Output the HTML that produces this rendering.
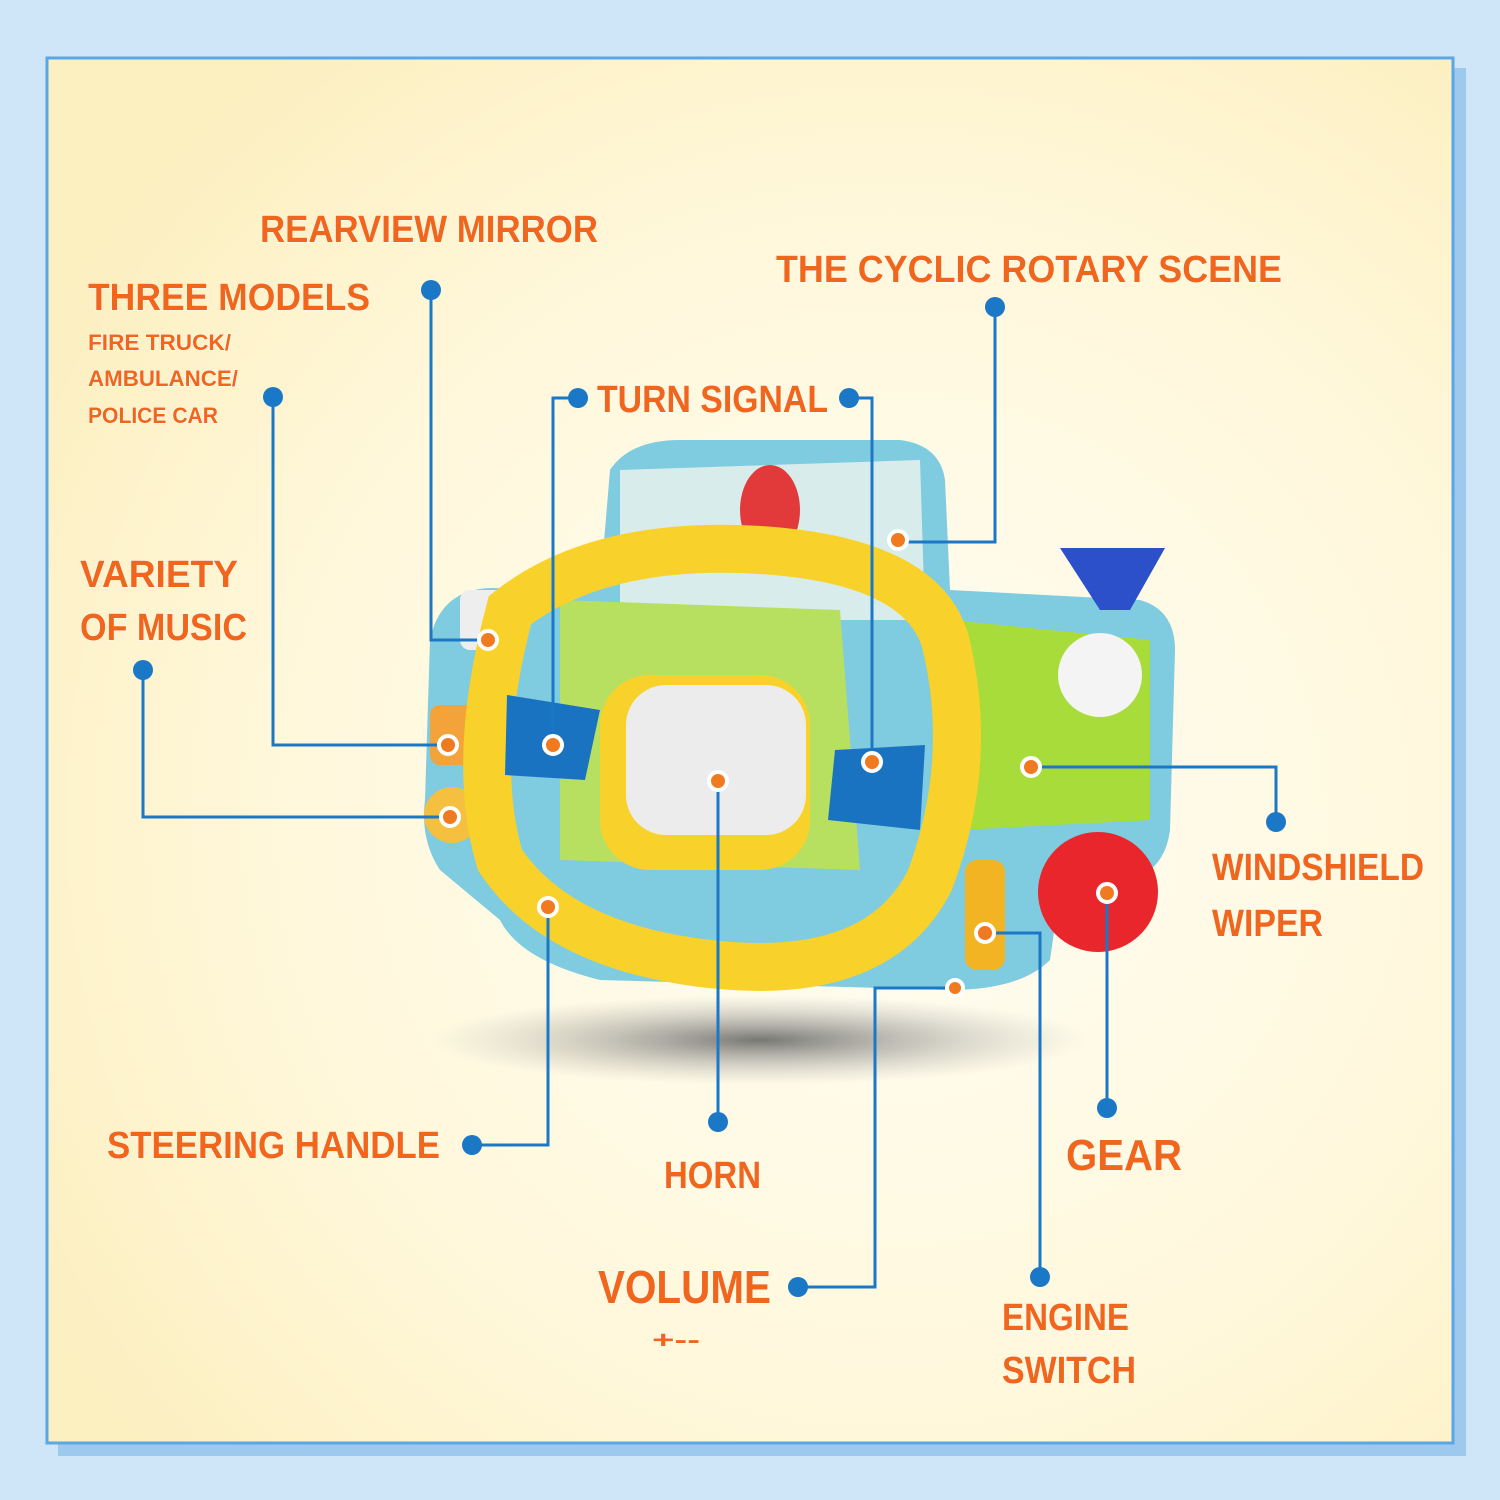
<!DOCTYPE html>
<html><head><meta charset="utf-8"><style>
body{margin:0;width:1500px;height:1500px;overflow:hidden;background:#cfe6f8}
svg{display:block}
text{font-family:"Liberation Sans",sans-serif;font-weight:bold;fill:#f0661c;stroke:#fff;stroke-width:1;paint-order:stroke}
</style></head><body>
<svg width="1500" height="1500" viewBox="0 0 1500 1500">
<defs>
<radialGradient id="bg" cx="0.6" cy="0.55" r="0.7"><stop offset="0" stop-color="#fffdf4"/><stop offset="0.6" stop-color="#fff8dc"/><stop offset="1" stop-color="#fcefc0"/></radialGradient>
<radialGradient id="sh" cx="0.5" cy="0.5" r="0.5"><stop offset="0" stop-color="#555" stop-opacity="0.8"/><stop offset="1" stop-color="#aaa" stop-opacity="0"/></radialGradient>
</defs>
<rect width="1500" height="1500" fill="#cfe6f8"/>
<rect x="58" y="68" width="1408" height="1388" fill="#9ec9ee"/>
<rect x="47" y="58" width="1406" height="1385" fill="url(#bg)" stroke="#5aa7e6" stroke-width="3"/>
<ellipse cx="760" cy="1040" rx="330" ry="45" fill="url(#sh)"/>
<path d="M610 470 Q630 440 680 440 L900 440 Q940 445 945 480 L950 590 L1140 600 Q1175 610 1175 650 L1170 830 Q1165 870 1130 880 L1060 890 L1050 960 Q1020 990 950 990 L600 980 Q520 960 500 920 L440 870 Q420 840 425 800 L430 640 Q440 590 490 588 L600 590 Z" fill="#7fcbe0"/>
<path d="M620 470 L920 460 L925 620 L620 620 Z" fill="#d9ecec"/>
<path d="M950 620 L1150 640 L1150 820 L960 830 Z" fill="#a8dc3a"/>
<path d="M560 600 L840 610 L860 870 L560 860 Z" fill="#b8e060"/>
<ellipse cx="770" cy="510" rx="30" ry="45" fill="#e23a3a"/>
<path d="M1060 548 L1165 548 L1130 610 L1100 610 Z" fill="#2b50c9"/>
<circle cx="1100" cy="675" r="42" fill="#f4f4f4"/>
<circle cx="1098" cy="892" r="60" fill="#e8262c"/>
<rect x="965" y="860" width="40" height="110" rx="12" fill="#f2b422"/>
<rect x="460" y="590" width="60" height="60" rx="10" fill="#eeeeee"/>
<rect x="430" y="705" width="50" height="60" rx="10" fill="#f4a33a"/>
<circle cx="452" cy="815" r="28" fill="#f5c040"/>
<path d="M510 610 Q600 540 760 550 Q920 560 945 640 Q975 760 930 880 Q880 980 720 965 Q560 950 500 860 Q470 760 510 610 Z" fill="none" stroke="#f8d22a" stroke-width="48"/>
<rect x="600" y="675" width="210" height="195" rx="50" fill="#f8d22a"/>
<rect x="626" y="685" width="180" height="150" rx="40" fill="#ececec"/>
<path d="M507 695 L600 710 L585 780 L505 775 Z" fill="#1a73c0"/>
<path d="M835 750 L925 745 L920 830 L828 820 Z" fill="#1a73c0"/>
<g stroke="#1b78c6" stroke-width="3" fill="none">
<polyline points="431,290 431,640 488,640"/>
<polyline points="273,397 273,745 448,745"/>
<polyline points="143,670 143,817 450,817"/>
<polyline points="578,398 553,398 553,745"/>
<polyline points="849,398 872,398 872,762"/>
<polyline points="995,307 995,542 898,542"/>
<polyline points="1031,767 1276,767 1276,822"/>
<polyline points="1107,893 1107,1108"/>
<polyline points="718,781 718,1122"/>
<polyline points="548,907 548,1145 472,1145"/>
<polyline points="955,988 875,988 875,1287 798,1287"/>
<polyline points="985,933 1040,933 1040,1277"/>
</g>
<g fill="#1b78c6">
<circle cx="431" cy="290" r="10"/><circle cx="273" cy="397" r="10"/><circle cx="143" cy="670" r="10"/>
<circle cx="578" cy="398" r="10"/><circle cx="849" cy="398" r="10"/><circle cx="995" cy="307" r="10"/>
<circle cx="1276" cy="822" r="10"/><circle cx="1107" cy="1108" r="10"/><circle cx="718" cy="1122" r="10"/>
<circle cx="472" cy="1145" r="10"/><circle cx="798" cy="1287" r="10"/><circle cx="1040" cy="1277" r="10"/>
</g>
<g fill="#f07a20" stroke="#fff" stroke-width="4">
<circle cx="488" cy="640" r="9"/><circle cx="448" cy="745" r="9"/><circle cx="450" cy="817" r="9"/>
<circle cx="553" cy="745" r="9"/><circle cx="872" cy="762" r="9"/><circle cx="898" cy="540" r="9"/>
<circle cx="1031" cy="767" r="9"/><circle cx="1107" cy="893" r="9"/><circle cx="718" cy="781" r="9"/>
<circle cx="548" cy="907" r="9"/><circle cx="955" cy="988" r="8"/><circle cx="985" cy="933" r="9"/>
</g>
<g lengthAdjust="spacingAndGlyphs">
<text x="260" y="242" font-size="38" textLength="338" lengthAdjust="spacingAndGlyphs">REARVIEW MIRROR</text>
<text x="88" y="310" font-size="38" textLength="282" lengthAdjust="spacingAndGlyphs">THREE MODELS</text>
<text x="88" y="350" font-size="22" textLength="143" lengthAdjust="spacingAndGlyphs">FIRE TRUCK/</text>
<text x="88" y="386" font-size="22" textLength="150" lengthAdjust="spacingAndGlyphs">AMBULANCE/</text>
<text x="88" y="423" font-size="22" textLength="130" lengthAdjust="spacingAndGlyphs">POLICE CAR</text>
<text x="776" y="282" font-size="38" textLength="506" lengthAdjust="spacingAndGlyphs">THE CYCLIC ROTARY SCENE</text>
<text x="597" y="412" font-size="38" textLength="231" lengthAdjust="spacingAndGlyphs">TURN SIGNAL</text>
<text x="80" y="587" font-size="38" textLength="158" lengthAdjust="spacingAndGlyphs">VARIETY</text>
<text x="80" y="640" font-size="38" textLength="167" lengthAdjust="spacingAndGlyphs">OF MUSIC</text>
<text x="1212" y="880" font-size="38" textLength="212" lengthAdjust="spacingAndGlyphs">WINDSHIELD</text>
<text x="1212" y="936" font-size="38" textLength="111" lengthAdjust="spacingAndGlyphs">WIPER</text>
<text x="107" y="1158" font-size="38" textLength="333" lengthAdjust="spacingAndGlyphs">STEERING HANDLE</text>
<text x="664" y="1188" font-size="38" textLength="97" lengthAdjust="spacingAndGlyphs">HORN</text>
<text x="1066" y="1170" font-size="44" textLength="116" lengthAdjust="spacingAndGlyphs">GEAR</text>
<text x="598" y="1303" font-size="46" textLength="173" lengthAdjust="spacingAndGlyphs">VOLUME</text>
<text x="652" y="1348" font-size="24" textLength="48" lengthAdjust="spacingAndGlyphs">+--</text>
<text x="1002" y="1330" font-size="38" textLength="127" lengthAdjust="spacingAndGlyphs">ENGINE</text>
<text x="1002" y="1383" font-size="38" textLength="134" lengthAdjust="spacingAndGlyphs">SWITCH</text>
</g>
</svg>
</body></html>
